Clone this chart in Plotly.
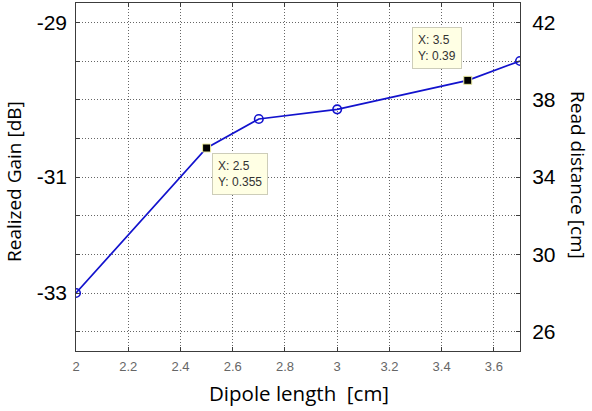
import plotly.graph_objects as go

# ---- data ----
dipole_length = [2.0, 2.5, 2.7, 3.0, 3.5, 3.7]          # cm
read_distance = [28.0, 35.5, 37.0, 37.5, 39.0, 40.0]    # cm
datatip_points = [1, 4]                                   # indices shown with data tips

x_ticks = [2.0, 2.2, 2.4, 2.6, 2.8, 3.0, 3.2, 3.4, 3.6]
x_tick_labels = ["2", "2.2", "2.4", "2.6", "2.8", "3", "3.2", "3.4", "3.6"]
right_ticks = [26, 28, 30, 32, 34, 36, 38, 40, 42]
right_tick_labels = ["26", "", "30", "", "34", "", "38", "", "42"]
left_ticks = [42, 34, 28]
left_tick_labels = ["-29", "-31", "-33"]

LINE_BLUE = "rgb(18,18,205)"
L, R, T, B = 76, 72, 3, 60
PW, PH = 592 - L - R, 411 - T - B


def px_x(p):
    return (p - L) / PW


def px_y(p):
    return (T + PH - p) / PH


circle_idx = [i for i in range(len(dipole_length)) if i not in datatip_points]

fig = go.Figure()
fig.add_trace(go.Scatter(x=dipole_length, y=read_distance, mode="lines",
                         line=dict(color=LINE_BLUE, width=1.7),
                         yaxis="y", showlegend=False, hoverinfo="skip"))
fig.add_trace(go.Scatter(x=[dipole_length[i] for i in circle_idx],
                         y=[read_distance[i] for i in circle_idx],
                         mode="markers",
                         marker=dict(symbol="circle-open", size=8.5, color=LINE_BLUE,
                                     line=dict(width=1.6, color=LINE_BLUE)),
                         yaxis="y", showlegend=False))
fig.add_trace(go.Scatter(x=[dipole_length[i] for i in datatip_points],
                         y=[read_distance[i] for i in datatip_points],
                         mode="markers",
                         marker=dict(symbol="square", size=8, color="black",
                                     line=dict(width=1, color="rgb(235,235,160)")),
                         yaxis="y", showlegend=False))
# empty trace so the left (gain) axis is drawn
fig.add_trace(go.Scatter(x=[None], y=[None], yaxis="y2", showlegend=False,
                         hoverinfo="skip"))

annotations = []
tip_layout = [dict(xanchor="left", yanchor="top", xshift=5, yshift=-5),
              dict(xanchor="right", yanchor="bottom", xshift=-6, yshift=11)]
for k, i in enumerate(datatip_points):
    annotations.append(dict(
        x=dipole_length[i], y=read_distance[i], xref="x", yref="y",
        text=f"X: {dipole_length[i]:g}<br>Y: {read_distance[i]/100:g}",
        showarrow=False, align="left",
        font=dict(family="Liberation Sans, Arial", size=12, color="#333333"),
        bgcolor="rgb(255,255,228)", bordercolor="rgb(205,205,185)",
        borderwidth=1, borderpad=5, **tip_layout[k]))

Y_TITLE_FONT = dict(family="Open Sans", size=19, color="black")
X_TITLE_FONT = dict(family="Open Sans", size=20.5, color="black")
annotations += [
    dict(x=px_x(578), y=px_y(175), xref="paper", yref="paper",
         xanchor="center", yanchor="middle", text="Read distance [cm]",
         textangle=90, showarrow=False, font=Y_TITLE_FONT),
    dict(x=px_x(14), y=px_y(182), xref="paper", yref="paper",
         xanchor="center", yanchor="middle", text="Realized Gain [dB]",
         textangle=-90, showarrow=False, font=Y_TITLE_FONT),
    dict(x=px_x(299), y=px_y(393), xref="paper", yref="paper",
         xanchor="center", yanchor="middle", text="Dipole length&nbsp; [cm]",
         showarrow=False, font=X_TITLE_FONT),
]

GRID = dict(showgrid=True, gridcolor="#666666", griddash="1px,2px", gridwidth=1)

fig.update_layout(
    width=592, height=411,
    margin=dict(l=L, r=R, t=T, b=B),
    plot_bgcolor="white", paper_bgcolor="white",
    showlegend=False,
    annotations=annotations,
    xaxis=dict(
        range=[2.0, 3.7], tickvals=x_ticks, ticktext=x_tick_labels,
        ticks="inside", ticklen=4, tickcolor="#3c3c3c", automargin=False,
        showline=True, linecolor="#3c3c3c", linewidth=1, mirror="ticks",
        zeroline=False, ticklabelstandoff=3, **GRID,
        tickfont=dict(family="Liberation Sans, Arial", size=13, color="#666666"),
    ),
    yaxis=dict(
        side="right", range=[25, 43], tickvals=right_ticks, ticktext=right_tick_labels,
        ticks="inside", ticklen=4, tickcolor="#3c3c3c", automargin=False,
        showline=True, linecolor="#3c3c3c", linewidth=1, mirror="ticks",
        zeroline=False, ticklabelstandoff=7, **GRID,
        tickfont=dict(family="Liberation Sans, Arial", size=21, color="black"),
    ),
    yaxis2=dict(
        overlaying="y", side="left", range=[25, 43],
        tickvals=left_ticks, ticktext=left_tick_labels, automargin=False,
        ticks="", showgrid=False, zeroline=False, showline=False,
        ticklabelstandoff=8,
        tickfont=dict(family="Liberation Sans, Arial", size=21, color="black"),
    ),
)

fig.write_html("out.html",
               config={"displayModeBar": False},
               post_script="document.body.style.margin='0px';")
